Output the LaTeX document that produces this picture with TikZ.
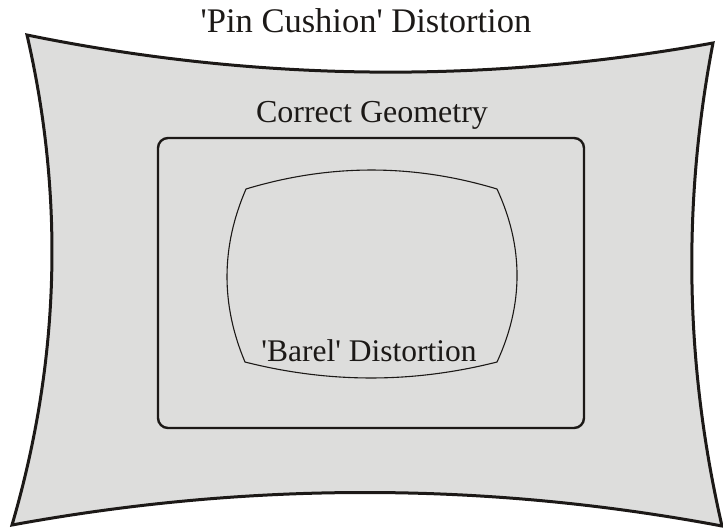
\documentclass[tikz,border=0pt]{standalone}
\usepackage{fontspec}
\setmainfont{Liberation Serif}
\newcommand\sq{\XeTeXglyph\XeTeXglyphindex "quotesingle"\relax}
\definecolor{panel}{RGB}{221,221,220}
\definecolor{ink}{RGB}{28,25,23}
\begin{document}
\begin{tikzpicture}[x=1pt,y=-1pt,
  outerline/.style={draw=ink,line width=3pt,fill=panel,line join=miter},
  rectline/.style={draw=ink,line width=2.4pt,rounded corners=10pt},
  barrelline/.style={draw=ink,line width=1.1pt},
  lbl/.style={text=ink,inner sep=0pt}]
\useasboundingbox (0,0) rectangle (723,528);
% pincushion
\coordinate (tl) at (27,35);
\coordinate (tr) at (713,43);
\coordinate (br) at (722,526);
\coordinate (bl) at (12,525);
\path[outerline] (tl) .. controls (255.7,81.7) and (484.3,84.3) .. (tr)
  .. controls (682,204.3) and (685,365.7) .. (br)
  .. controls (485.3,481.5) and (248.7,481.5) .. (bl)
  .. controls (59.7,362.3) and (64.7,198.7) .. (tl) -- cycle;
% correct geometry
\node[rectline,minimum width=426pt,minimum height=290pt,inner sep=0pt] (rect) at (371,283) {};
% barrel
\coordinate (btl) at (246,189);
\coordinate (btr) at (497,189);
\coordinate (bbr) at (497,362);
\coordinate (bbl) at (245,362);
\draw[barrelline] (btl) .. controls (329.7,163.7) and (413.3,163.7) .. (btr)
  .. controls (523.7,246.7) and (523.7,304.3) .. (bbr)
  .. controls (413,383.3) and (329,383.3) .. (bbl)
  .. controls (220.7,304.3) and (221,246.7) .. (btl) -- cycle;
% labels
\node[lbl,font=\fontsize{34.5}{35}\selectfont] (t1) at (366,21) {\sq Pin Cushion\sq{} Distortion};
\node[lbl,font=\fontsize{32}{33}\selectfont] (t2) at (372,115) {Correct Geometry};
\node[lbl,font=\fontsize{31.5}{32}\selectfont] (t3) at (369,351) {\sq Barel\sq{} Distortion};
\end{tikzpicture}
\end{document}
